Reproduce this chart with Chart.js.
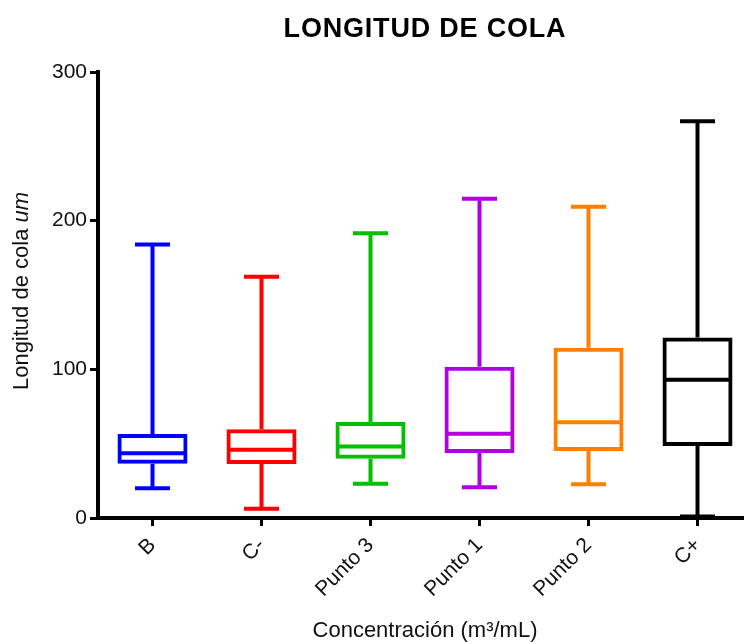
<!DOCTYPE html>
<html>
<head>
<meta charset="utf-8">
<script src="https://cdn.jsdelivr.net/npm/chart.js@4"></script>
<style>
  html, body { margin: 0; padding: 0; background: #fff; overflow: hidden; width: 744px; height: 642px; }
  #wrap { width: 752px; height: 642px; }
</style>
</head>
<body>
<div id="wrap"><canvas id="c" width="752" height="642"></canvas></div>
<script>
const categories = ['B', 'C-', 'Punto 3', 'Punto 1', 'Punto 2', 'C+'];
const minValues    = [20.0,  6.2, 23.0,  20.7,  22.7,   1.0];
const q1Values     = [36.5, 36.3, 39.8,  43.8,  45.0,  48.5];
const medianValues = [43.6, 45.9, 48.1,  56.6,  64.4,  93.0];
const q3Values     = [56.5, 59.7, 64.5, 101.8, 114.6, 121.4];
const maxValues    = [184.0, 162.2, 191.6, 214.7, 209.3, 266.9];
const boxColors = ['#0000FF', '#FF0000', '#00C000', '#B000E6', '#FF8000', '#000000'];
const yTicks = [0, 100, 200, 300];
const chartTitle = 'LONGITUD DE COLA';
const yTitleMain = 'Longitud de cola ';
const yTitleUnit = 'um';
const xTitle = 'Concentración (m³/mL)';

const FONT = "'Liberation Sans', Arial, Helvetica, sans-serif";

const whiskerPlugin = {
  id: 'whiskers',
  afterDatasetsDraw(chart) {
    const ctx = chart.ctx;
    const meta = chart.getDatasetMeta(0);
    const y = chart.scales.y;
    ctx.save();
    ctx.lineWidth = 4;
    ctx.lineCap = 'butt';
    meta.data.forEach((el, i) => {
      const cx = el.x;
      const w = el.width;
      const cap = 35;
      ctx.strokeStyle = boxColors[i];
      const yMin = y.getPixelForValue(minValues[i]);
      const yMax = y.getPixelForValue(maxValues[i]);
      const yQ1 = y.getPixelForValue(q1Values[i]);
      const yQ3 = y.getPixelForValue(q3Values[i]);
      const yMed = y.getPixelForValue(medianValues[i]);
      ctx.beginPath();
      ctx.moveTo(cx, yQ3); ctx.lineTo(cx, yMax);
      ctx.moveTo(cx - cap / 2, yMax); ctx.lineTo(cx + cap / 2, yMax);
      ctx.moveTo(cx, yQ1); ctx.lineTo(cx, yMin);
      ctx.moveTo(cx - cap / 2, yMin); ctx.lineTo(cx + cap / 2, yMin);
      ctx.moveTo(cx - w / 2 + 2, yMed); ctx.lineTo(cx + w / 2 - 2, yMed);
      ctx.stroke();
    });
    ctx.restore();
  }
};

const textPlugin = {
  id: 'texts',
  afterDraw(chart) {
    const ctx = chart.ctx;
    const a = chart.chartArea;
    ctx.save();
    ctx.fillStyle = '#000';
    ctx.font = "bold 27px " + FONT;
    if ('letterSpacing' in ctx) ctx.letterSpacing = '0.8px';
    ctx.textAlign = 'center';
    ctx.textBaseline = 'middle';
    ctx.fillText(chartTitle, (a.left + a.right) / 2, 30);
    ctx.restore();
    ctx.save();
    ctx.translate(22, (a.top + a.bottom) / 2);
    ctx.rotate(-Math.PI / 2);
    ctx.fillStyle = '#111';
    ctx.textBaseline = 'middle';
    ctx.font = "22px " + FONT;
    const w1 = ctx.measureText(yTitleMain).width;
    ctx.font = "italic 22px " + FONT;
    const w2 = ctx.measureText(yTitleUnit).width;
    const start = -(w1 + w2) / 2 + 4;
    ctx.font = "22px " + FONT;
    ctx.textAlign = 'left';
    ctx.fillText(yTitleMain, start, 0);
    ctx.font = "italic 22px " + FONT;
    ctx.fillText(yTitleUnit, start + w1, 0);
    ctx.restore();
  }
};

new Chart(document.getElementById('c'), {
  type: 'bar',
  data: {
    labels: categories,
    datasets: [{
      data: categories.map((_, i) => [q1Values[i], q3Values[i]]),
      backgroundColor: 'rgba(0,0,0,0)',
      borderColor: boxColors,
      borderWidth: 4,
      borderSkipped: false,
      barPercentage: 70 / 109,
      categoryPercentage: 1.0
    }]
  },
  options: {
    responsive: false,
    animation: false,
    layout: { padding: { left: 0, right: 0, top: 72, bottom: 0 } },
    plugins: {
      legend: { display: false },
      tooltip: { enabled: false },
      title: { display: false }
    },
    scales: {
      x: {
        offset: true,
        grid: { display: true, drawOnChartArea: false, offset: false, tickLength: 8, lineWidth: 3, color: '#000' },
        border: { display: true, width: 4, color: '#000' },
        ticks: {
          color: '#111',
          font: { family: FONT, size: 21 },
          maxRotation: 45, minRotation: 45,
          padding: 7
        },
        title: {
          display: true,
          text: xTitle,
          color: '#111',
          font: { family: FONT, size: 22, lineHeight: 1 },
          padding: { top: 0, bottom: 0 }
        },
        afterFit(scale) { scale.height = 124; }
      },
      y: {
        min: 0, max: 300,
        afterBuildTicks(scale) { scale.ticks = yTicks.map(v => ({ value: v })); },
        grid: { display: true, drawOnChartArea: false, tickLength: 8, lineWidth: 3, color: '#000' },
        border: { display: true, width: 4, color: '#000' },
        ticks: {
          color: '#111',
          font: { family: FONT, size: 21 },
          padding: 3
        },
        afterFit(scale) { scale.width = 98; }
      }
    }
  },
  plugins: [whiskerPlugin, textPlugin]
});
</script>
</body>
</html>
